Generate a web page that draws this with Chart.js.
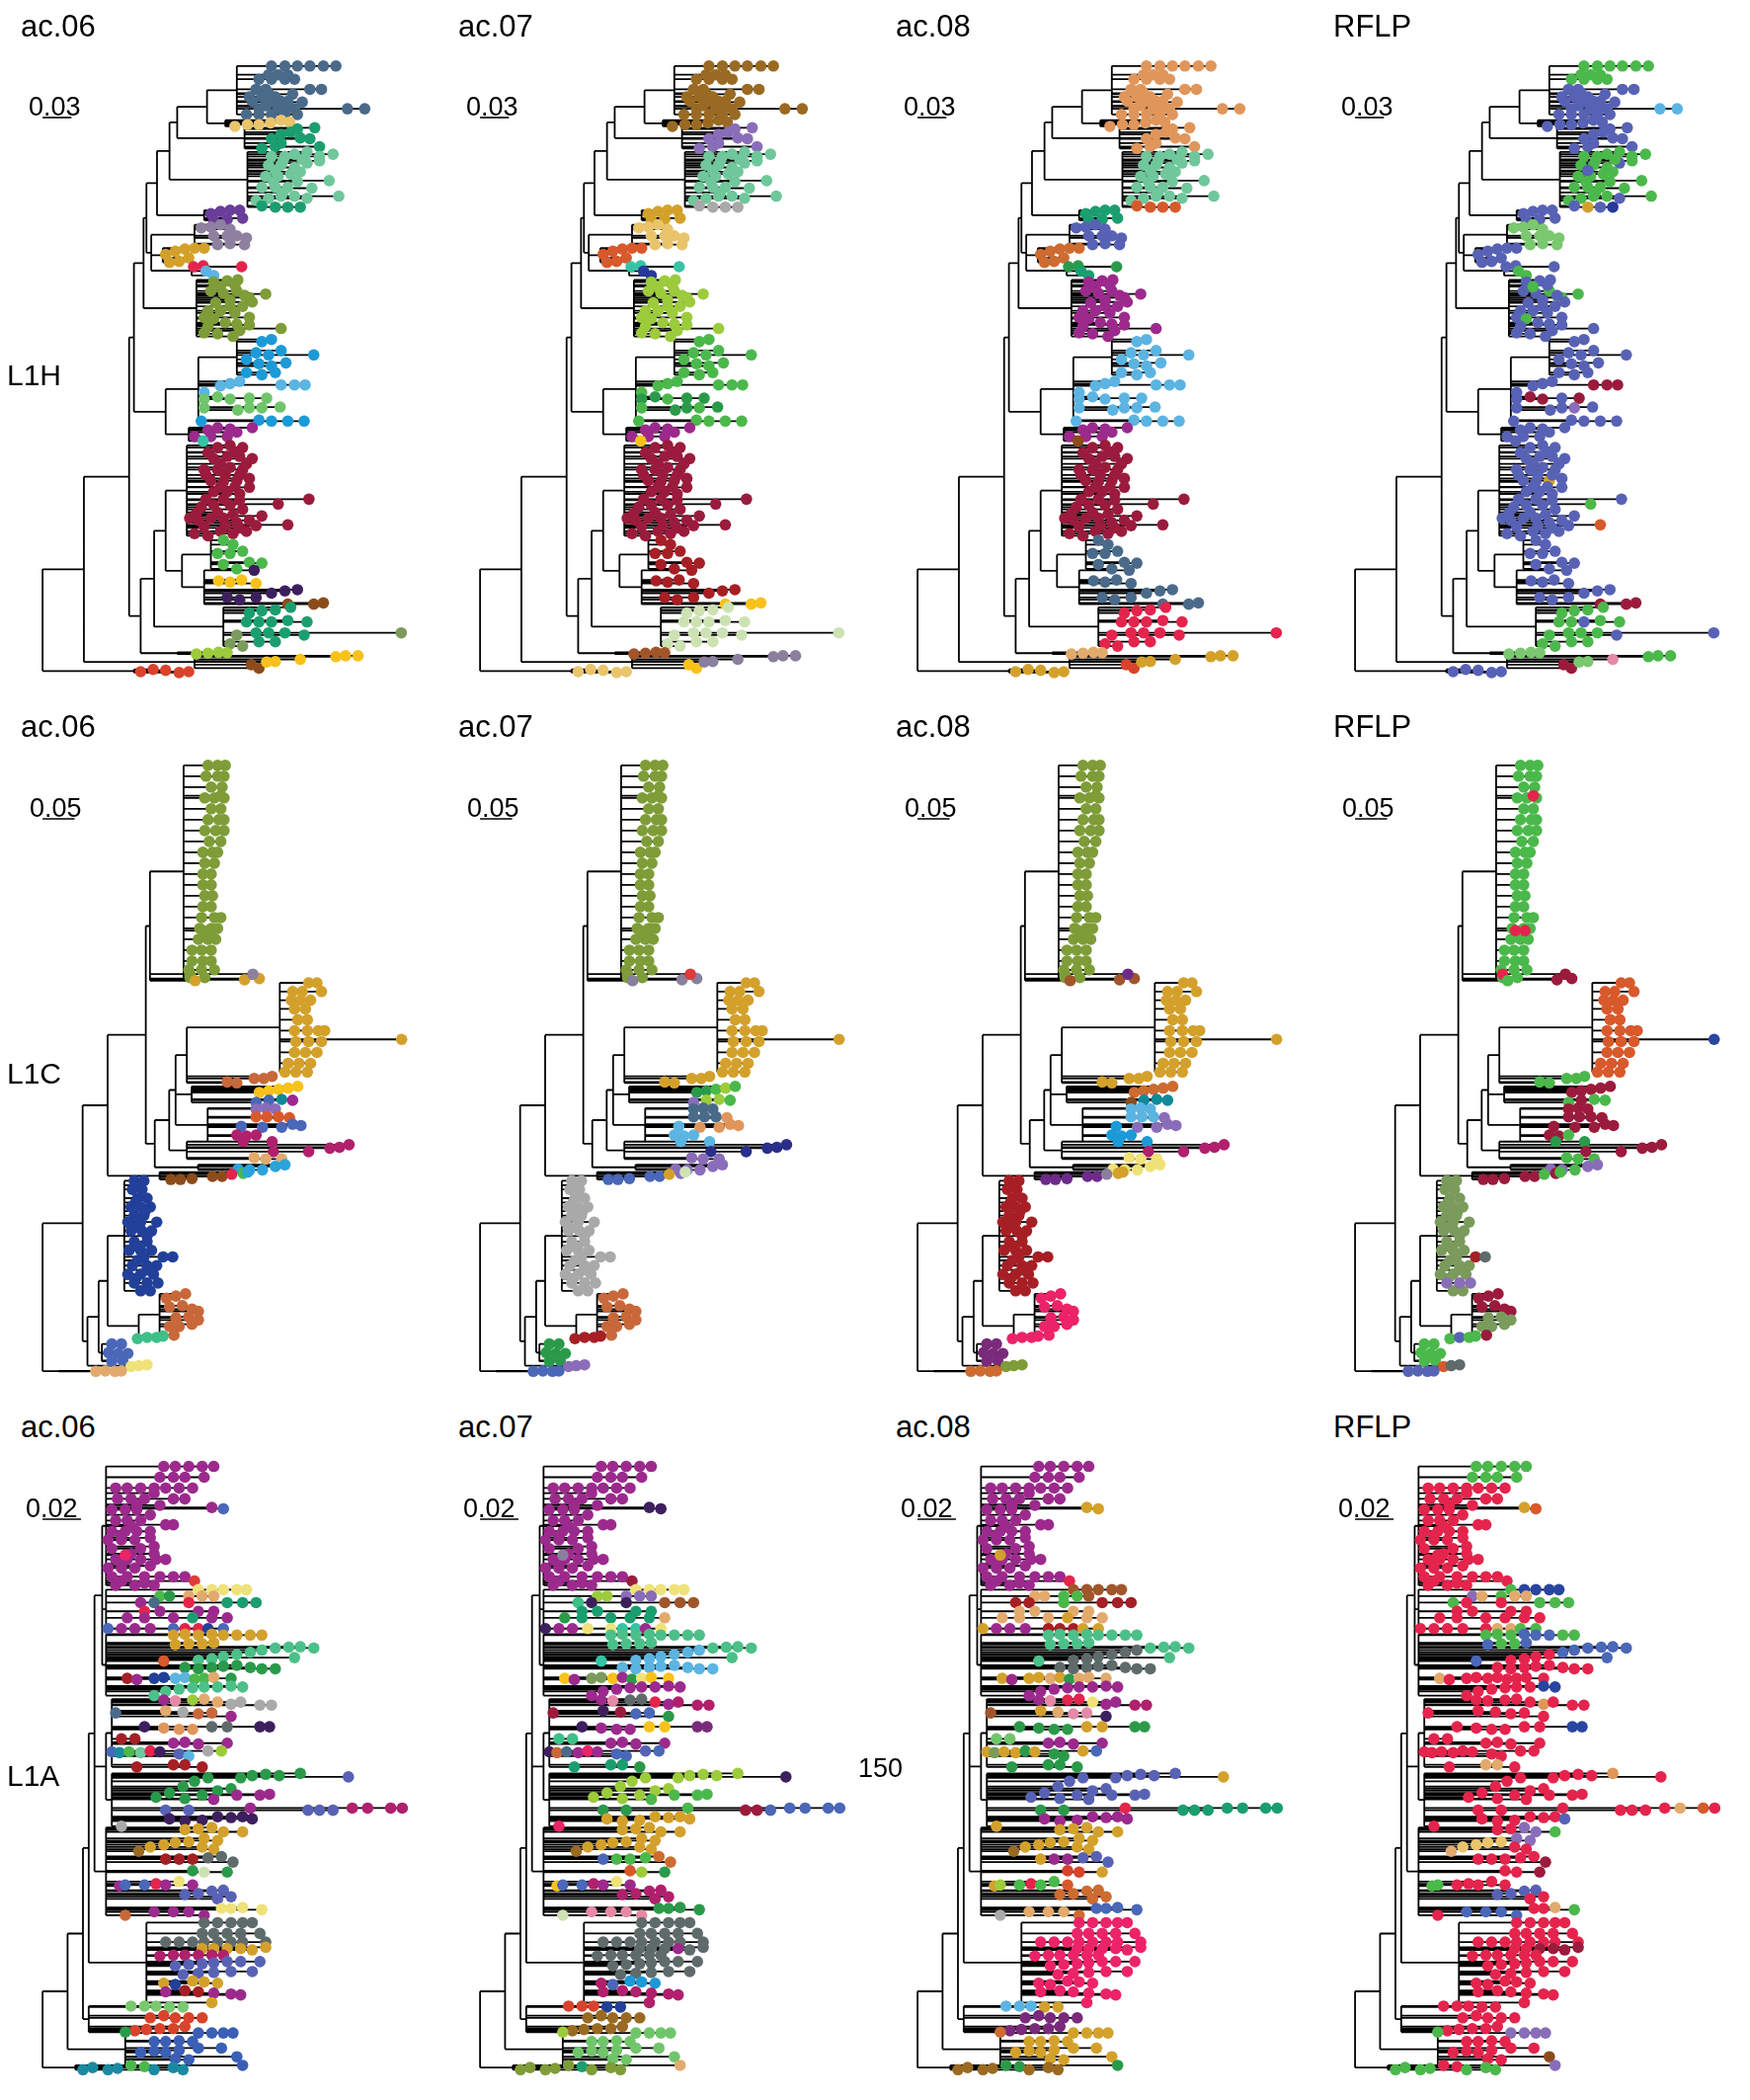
<!DOCTYPE html>
<html>
<head>
<meta charset="utf-8">
<script src="https://cdn.jsdelivr.net/npm/chart.js@4.4.1/dist/chart.umd.min.js"></script>
<style>
  html, body { margin: 0; padding: 0; background: #fff; }
  #page { position: relative; width: 1772px; height: 2126px; overflow: hidden;
          font-family: 'Liberation Sans', Arial, Helvetica, sans-serif; color: #000; }
  #page canvas { position: absolute; }
  .lbl { position: absolute; white-space: nowrap; }
</style>
</head>
<body>
<div id="page"></div>
<script>
// colour keys used by the tip colour strings
const palette = {
  A: '#4a6a8a', B: '#e9c46b', C: '#1b9e6f', D: '#6fc79b', E: '#6a3d9a', F: '#8e809f', G: '#d3a12b',
  H: '#e4244c', I: '#5bb4e1', J: '#7e9c37', K: '#1c9ad7', L: '#70c56b', M: '#9c2a8d', N: '#36c3a6',
  O: '#9b1b3c', P: '#4bb84b', Q: '#f8c21b', R: '#3d1f5e', S: '#8c4b1b', T: '#7a9b5b', U: '#9ccb3b',
  V: '#d9432b', W: '#9a6a23', X: '#8a6db9', Y: '#a9a9a9', Z: '#d8592b',
  a: '#27399b', b: '#2a9a4a', c: '#a61f25', d: '#cde2b3', e: '#8a7f9d', f: '#e0965b', g: '#5862b5',
  h: '#cd6b31', i: '#7ac86f', j: '#e48aa5', k: '#e2aa6c', l: '#a0562a', m: '#c8683a', n: '#4a67b8',
  o: '#b0206c', p: '#2aa3da', q: '#22409a', r: '#3ebf88', s: '#efe27a', t: '#2a2f8a', u: '#ec2368',
  v: '#7a2a7a', w: '#0f8a9a', x: '#5f6b6a', y: '#e03a3a', z: '#2a45a0',
  '0': '#4cc089', '1': '#1a8aa0', '2': '#3a5fb5', '3': '#6e2a8a'
};

const columns = ['ac.06', 'ac.07', 'ac.08', 'RFLP'];
const lineages = ['L1H', 'L1C', 'L1A'];
const scaleBars = [0.03, 0.05, 0.02];

// ---------- L1H ----------
// nodes: [distance from root, parent node]
const l1hNodes = [
  [0, -1], [0.043, 0], [0.09, 1], [0.095, 2], [0.105, 3], [0.108, 4], [0.119, 5], [0.132, 6],
  [0.14, 7], [0.171, 8], [0.202, 9], [0.19, 9], [0.21, 8], [0.137, 7], [0.213, 13], [0.168, 6],
  [0.113, 5], [0.158, 16], [0.125, 16], [0.155, 16], [0.16, 4], [0.128, 3], [0.135, 21], [0.162, 22],
  [0.202, 23], [0.152, 21], [0.102, 2], [0.116, 26], [0.128, 27], [0.15, 28], [0.145, 28], [0.175, 30],
  [0.168, 30], [0.188, 27], [0.13, 1], [0.158, 34], [0.095, 0], [0.14, 26]
];
// tip groups: [node, distance, tip rank, distance, tip rank, ...]
const l1hGroups = [
  [10, 0.238,1382, 0.252,1382, 0.265,1382, 0.278,1382, 0.292,1382, 0.305,1382, 0.235,1362, 0.245,1362, 0.255,1362, 0.225,1352, 0.238,1352, 0.252,1352, 0.262,1352],
  [10, 0.222,1329, 0.232,1329, 0.278,1329, 0.29,1329, 0.215,1312, 0.228,1312, 0.242,1312, 0.218,1302, 0.238,1302, 0.248,1302, 0.255,1302, 0.225,1285, 0.245,1285, 0.262,1285, 0.212,1272, 0.225,1272, 0.238,1272, 0.252,1272, 0.265,1272, 0.235,1320, 0.26,1318, 0.27,1300, 0.232,1292, 0.255,1290],
  [10, 0.317,1285, 0.335,1285],
  [11, 0.2,1245, 0.213,1249, 0.225,1249, 0.237,1253, 0.248,1259, 0.257,1255],
  [12, 0.228,1195, 0.238,1217, 0.248,1227, 0.258,1232, 0.268,1219, 0.278,1217, 0.265,1239, 0.283,1242, 0.248,1207, 0.288,1199, 0.242,1199],
  [14, 0.238,1177, 0.252,1177, 0.262,1182, 0.275,1187, 0.288,1177, 0.302,1182, 0.235,1157, 0.248,1157, 0.262,1152, 0.275,1162, 0.288,1167, 0.232,1132, 0.245,1132, 0.258,1137, 0.298,1122, 0.228,1107, 0.242,1107, 0.255,1107, 0.235,1082, 0.248,1087, 0.262,1087, 0.275,1082, 0.308,1087, 0.222,1077, 0.25,1167, 0.27,1170, 0.242,1145, 0.268,1142, 0.24,1120, 0.265,1120, 0.28,1105, 0.25,1095],
  [14, 0.228,1065, 0.242,1062, 0.255,1062, 0.268,1062],
  [15, 0.175,1047, 0.185,1052, 0.195,1055, 0.205,1055, 0.178,1032, 0.192,1034, 0.208,1037],
  [17, 0.165,1015, 0.175,1017, 0.185,1022, 0.195,1012, 0.178,997, 0.192,997, 0.202,997, 0.212,992, 0.182,977, 0.195,979, 0.21,977],
  [18, 0.128,955, 0.138,962, 0.148,967, 0.158,969, 0.168,969, 0.132,937, 0.142,939, 0.152,947],
  [19, 0.157,927, 0.167,929, 0.207,927],
  [19, 0.17,917, 0.178,907],
  [20, 0.178,892, 0.192,895, 0.203,897, 0.175,872, 0.188,867, 0.202,872, 0.215,857, 0.232,865, 0.172,827, 0.185,827, 0.195,837, 0.208,837, 0.218,847, 0.168,812, 0.178,809, 0.202,797, 0.215,795, 0.248,787, 0.168,777, 0.182,775, 0.198,769, 0.185,882, 0.2,885, 0.21,862, 0.195,852, 0.18,845, 0.2,822, 0.215,812, 0.19,800, 0.172,792, 0.205,782],
  [24, 0.228,757, 0.238,762, 0.222,732, 0.235,727, 0.248,737, 0.282,727, 0.212,717, 0.225,707, 0.238,702, 0.253,709, 0.212,687, 0.228,682, 0.242,687],
  [23, 0.185,657, 0.195,662, 0.205,667, 0.168,642],
  [23, 0.248,659, 0.262,659, 0.273,659],
  [23, 0.168,627, 0.182,632, 0.195,627, 0.215,629, 0.233,629, 0.168,607, 0.203,602, 0.215,607, 0.228,607, 0.247,609],
  [23, 0.165,577, 0.225,579, 0.238,577, 0.255,577, 0.272,577],
  [25, 0.158,542, 0.172,557, 0.182,562, 0.195,559, 0.202,552, 0.218,562, 0.175,542, 0.192,542],
  [25, 0.167,532],
  [29, 0.182,517, 0.195,522, 0.208,517, 0.178,492, 0.192,497, 0.205,497, 0.218,492, 0.168,467, 0.182,467, 0.195,472, 0.208,467, 0.215,447, 0.175,442, 0.188,439, 0.202,442, 0.215,427, 0.178,417, 0.192,417, 0.205,412, 0.277,400, 0.165,382, 0.178,387, 0.195,387, 0.208,377, 0.228,362, 0.153,357, 0.162,352, 0.175,357, 0.188,357, 0.202,347, 0.215,352, 0.158,322, 0.172,317, 0.185,327, 0.198,322, 0.212,327, 0.172,505, 0.2,507, 0.185,480, 0.212,480, 0.17,455, 0.19,455, 0.205,455, 0.185,428, 0.2,428, 0.17,400, 0.188,400, 0.205,398, 0.16,368, 0.182,370, 0.198,365, 0.168,338, 0.19,340, 0.205,335, 0.222,340],
  [29, 0.245,389],
  [29, 0.255,342],
  [31, 0.188,307, 0.198,297, 0.182,277, 0.195,277, 0.208,282, 0.188,252, 0.202,242, 0.215,257, 0.228,255],
  [32, 0.183,215, 0.195,212, 0.207,217, 0.222,209],
  [32, 0.22,239, 0.192,177, 0.205,172, 0.222,177, 0.238,187, 0.252,192, 0.265,195],
  [32, 0.255,162, 0.282,162, 0.292,165],
  [33, 0.215,142, 0.228,147, 0.242,149, 0.258,155, 0.212,122, 0.225,122, 0.238,122, 0.255,125, 0.275,122, 0.222,97, 0.235,97, 0.252,97, 0.272,92, 0.225,77, 0.242,77],
  [33, 0.373,97],
  [33, 0.202,92, 0.195,72, 0.208,67],
  [37, 0.16,49, 0.172,51, 0.183,53, 0.192,52],
  [35, 0.217,25, 0.225,17],
  [35, 0.233,31, 0.242,32, 0.268,37],
  [35, 0.305,43, 0.315,45, 0.328,45],
  [36, 0.102,9, 0.115,14, 0.128,12, 0.142,7, 0.152,9]
];
// one colour string per tip group (a single key colours the whole group)
const l1hAc06 = ['A','A','A','B','C','D','C','E','F','G','H','I','J','K','I','I','L','K','M','N','O','O','O','P','Q','R','S','C','T','T','U','S','Q','Q','V'];
const l1hAc07 = ['W','W','W','W','X','D','Y','G','B','Z','N','a','U','P','P','P','bbPbbPbbPb','P','M','Q','O','O','O','c','c','c','Q','d','d','d','l','Q','e','e','B'];
const l1hAc08 = ['f','f','f','f','f','D','Z','C','g','h','b','C','M','I','I','I','I','I','M','S','O','O','O','A','A','A','A','H','H','H','k','V','G','G','G'];
const l1hRflp = ['P','g','I','g','g','PPPPPPPPPgPPPPPPPPPPPgPPPPgPPPPP','gGga','g','i','g','g','P','gggggPPPggggggPggggggPgggggggg','g','g','O','gOOgOgggXg','g','g','g','ggggggggggggggGgggggggggggggggggggggg','P','Z','g','g','g','O','PPPPPPgPPPPPgPP','g','P','i','O','iij','P','g'];

// ---------- L1C ----------
const l1cNodes = [
  [0, -1], [0.0625, 0], [0.1015, 1], [0.161, 2], [0.1675, 3], [0.2, 4], [0.22, 5], [0.17, 3],
  [0.175, 7], [0.1975, 8], [0.2075, 9], [0.225, 10], [0.37, 11], [0.2325, 10], [0.2575, 10], [0.225, 9],
  [0.2425, 8], [0.1825, 2], [0.07, 1], [0.0875, 18], [0.1015, 19], [0.1275, 20], [0.15, 20], [0.1825, 22],
  [0.1425, 22], [0.0925, 19], [0.1275, 18], [0.025, 0]
];
const l1cGroups = [
  [6, 0.258,1400, 0.273,1400, 0.285,1400, 0.255,1375, 0.273,1375, 0.283,1375, 0.263,1350, 0.28,1350, 0.253,1325, 0.268,1325, 0.283,1325, 0.263,1300, 0.278,1300, 0.258,1275, 0.275,1275, 0.283,1275, 0.253,1250, 0.27,1250, 0.283,1250, 0.26,1225, 0.278,1225, 0.25,1200, 0.265,1200, 0.273,1200, 0.253,1175, 0.268,1175, 0.25,1150, 0.263,1150, 0.25,1125, 0.263,1125, 0.253,1100, 0.265,1100, 0.25,1075, 0.263,1075, 0.248,1050, 0.268,1050, 0.278,1050, 0.245,1025, 0.263,1025, 0.273,1025, 0.243,1000, 0.258,1000, 0.27,1000, 0.233,975, 0.248,975, 0.263,975, 0.233,950, 0.25,950, 0.263,950, 0.228,930, 0.248,930, 0.268,930, 0.23,912, 0.253,912],
  [6, 0.278,1330, 0.25,1020, 0.265,1020, 0.23,920],
  [4, 0.238,905, 0.315,907, 0.338,910],
  [4, 0.328,920],
  [12, 0.415,900, 0.428,900, 0.39,880, 0.405,880, 0.435,880, 0.388,860, 0.403,860, 0.418,860, 0.393,840, 0.41,840, 0.398,815, 0.413,815, 0.393,790, 0.413,790, 0.43,790, 0.44,790, 0.395,765, 0.415,765, 0.435,765, 0.393,740, 0.41,740, 0.428,740, 0.383,715, 0.4,715, 0.418,715, 0.378,695, 0.395,695, 0.413,695],
  [12, 0.56,770],
  [11, 0.288,672, 0.303,670, 0.33,680, 0.345,680, 0.358,685],
  [13, 0.338,648, 0.353,652, 0.368,655, 0.383,658, 0.398,662],
  [13, 0.333,625, 0.353,630, 0.373,632, 0.39,630],
  [14, 0.333,610, 0.348,612, 0.363,610, 0.333,592, 0.35,592, 0.368,592, 0.385,590],
  [14, 0.31,570, 0.343,568, 0.373,568, 0.39,575, 0.403,572],
  [14, 0.303,550, 0.318,548, 0.333,550, 0.313,535],
  [15, 0.358,535, 0.36,512, 0.415,512, 0.448,520, 0.463,522, 0.478,528],
  [15, 0.33,498, 0.348,495, 0.373,495],
  [16, 0.305,472, 0.323,470, 0.343,470, 0.363,478, 0.378,482],
  [17, 0.2,448, 0.215,448, 0.233,450, 0.265,455, 0.28,455, 0.295,460, 0.313,462, 0.32,465],
  [21, 0.143,445, 0.158,445, 0.14,425, 0.155,425, 0.148,405, 0.163,405, 0.138,385, 0.153,385, 0.168,385, 0.143,365, 0.158,365, 0.133,350, 0.153,350, 0.178,350, 0.138,330, 0.155,330, 0.17,330, 0.143,305, 0.163,305, 0.135,285, 0.153,285, 0.17,285, 0.158,270, 0.14,250, 0.163,250, 0.178,250, 0.133,230, 0.153,230, 0.173,230, 0.153,192, 0.168,192, 0.15,435, 0.145,395, 0.16,375, 0.148,340, 0.163,318, 0.148,295, 0.148,262, 0.163,240, 0.145,220],
  [21, 0.188,270, 0.203,270],
  [21, 0.143,210, 0.163,210, 0.18,210],
  [23, 0.193,175, 0.208,180, 0.223,185, 0.198,155, 0.218,158, 0.233,150, 0.243,145],
  [23, 0.208,130, 0.228,132, 0.198,110, 0.213,110, 0.233,115, 0.243,125, 0.205,90],
  [24, 0.148,82, 0.163,85, 0.178,85, 0.188,88],
  [25, 0.108,70, 0.123,70, 0.103,50, 0.118,48, 0.133,48, 0.108,30, 0.125,32],
  [26, 0.138,18, 0.15,20, 0.163,22],
  [27, 0.083,7, 0.098,8, 0.113,7, 0.123,8]
];
const l1cAc06 = ['J','J','G','F','G','G','m','Q','nnwM','XXXZZZZ','n','o','o','k','p','SSSSSHPp','q','q','q','m','m','r','n','s','k'];
const l1cAc07 = ['J','J','e','y','G','G','G','bbPUP','XUUP','AAAAAAf','Iffff','I','Itttttt','X','X','nnnnnGXd','Y','Y','Y','m','m','c','b','X','n'];
const l1cAc08 = ['J','J','l','3','G','G','G','h','Swww','IIIIIIX','KXXXX','K','Kooooo','s','s','33333eGG','c','c','c','u','u','u','v','J','h'];
const l1cRflp = ['P','H','POO','O','Z','z','P','O','POPP','O','O','OOPb','bOOOOO','P','XXPXX','OOOOOPOP','T','cx','X','O','TTTTTTO','PgPP','P','Zxx','g'];

// ---------- L1A ----------
const l1aNodes = [
  [0, -1], [0.013, 0], [0.021, 1], [0.024, 2], [0.027, 3], [0.031, 4], [0.033, 5], [0.033, 5],
  [0.033, 4], [0.036, 8], [0.036, 8], [0.033, 4], [0.054, 3], [0.024, 2], [0.033, 5], [0.043, 1],
  [0.017, 0]
];
const l1aGroups = [
  [6, 0.063,1410, 0.069,1410, 0.076,1410, 0.083,1410, 0.089,1410, 0.061,1385, 0.068,1385, 0.074,1385, 0.084,1385],
  [6, 0.038,1360, 0.044,1360, 0.051,1360, 0.058,1360, 0.064,1360, 0.071,1360, 0.078,1360, 0.039,1335, 0.046,1335, 0.053,1335, 0.068,1335, 0.074,1335, 0.036,1310, 0.043,1310, 0.049,1310, 0.038,1285, 0.044,1285, 0.051,1285, 0.064,1275, 0.068,1275, 0.036,1260, 0.043,1260, 0.049,1260, 0.056,1260, 0.034,1240, 0.041,1240, 0.048,1240, 0.058,1225, 0.036,1220, 0.051,1220, 0.038,1195, 0.044,1195, 0.051,1195, 0.059,1195, 0.064,1195, 0.034,1175, 0.041,1175, 0.048,1175, 0.036,1155, 0.044,1155, 0.053,1155, 0.061,1155, 0.068,1155, 0.074,1155, 0.038,1135, 0.048,1135, 0.058,1135, 0.058,1348, 0.049,1322, 0.061,1320, 0.056,1298, 0.046,1272, 0.041,1250, 0.056,1245, 0.046,1208, 0.058,1208, 0.041,1185, 0.056,1180, 0.041,1145, 0.053,1140],
  [6, 0.043,1205, 0.088,1315, 0.094,1312, 0.079,1145],
  [7, 0.081,1125, 0.088,1125, 0.094,1125, 0.101,1125, 0.106,1125, 0.061,1110, 0.066,1110, 0.076,1110, 0.083,1110, 0.089,1110, 0.051,1095, 0.058,1095, 0.076,1095, 0.096,1095, 0.104,1095, 0.111,1095, 0.053,1075, 0.061,1075, 0.081,1075, 0.089,1075, 0.044,1060, 0.053,1060, 0.068,1060, 0.078,1060, 0.088,1060, 0.096,1060, 0.034,1035, 0.041,1035, 0.048,1035, 0.056,1035, 0.068,1035, 0.074,1035, 0.081,1035, 0.086,1035, 0.094,1035],
  [14, 0.068,1020, 0.074,1022, 0.081,1020, 0.088,1022, 0.094,1020, 0.101,1020, 0.108,1020, 0.114,1020, 0.069,998, 0.076,1000, 0.083,1000, 0.089,1002],
  [14, 0.081,962, 0.088,965, 0.094,970, 0.101,975, 0.108,980, 0.114,985, 0.121,990, 0.128,992, 0.134,993, 0.141,990, 0.131,968, 0.063,960],
  [14, 0.074,945, 0.081,942, 0.088,945, 0.094,948, 0.101,950, 0.108,945, 0.114,942, 0.121,942],
  [14, 0.044,920, 0.049,917, 0.058,920, 0.063,922, 0.069,920, 0.074,922, 0.079,918, 0.084,920, 0.089,922, 0.098,920],
  [14, 0.058,880, 0.064,890, 0.071,895, 0.078,898, 0.084,900, 0.091,900, 0.098,902, 0.104,900],
  [9, 0.063,870, 0.069,868, 0.078,870, 0.084,872, 0.091,865, 0.098,860, 0.103,865, 0.113,858, 0.119,858, 0.038,840, 0.064,845, 0.073,842, 0.081,838, 0.088,840, 0.098,832],
  [9, 0.053,808, 0.063,805, 0.071,802, 0.078,802, 0.088,808, 0.096,808, 0.113,808, 0.118,808],
  [9, 0.041,780, 0.048,780, 0.068,770, 0.074,772, 0.081,768, 0.096,770],
  [9, 0.036,750, 0.04,748, 0.045,750, 0.051,748, 0.056,752, 0.061,750, 0.071,745, 0.076,740, 0.086,752, 0.093,752, 0.049,715, 0.068,720, 0.074,720, 0.083,715],
  [10, 0.059,645, 0.066,655, 0.073,670, 0.079,682, 0.086,690, 0.074,642, 0.083,650, 0.091,660, 0.098,665, 0.103,690, 0.109,695, 0.116,698, 0.123,695, 0.134,700, 0.159,692, 0.089,640, 0.101,650, 0.113,650, 0.118,652],
  [10, 0.064,615, 0.076,615, 0.108,620, 0.138,615, 0.144,615, 0.151,615, 0.161,620, 0.169,620, 0.181,620, 0.187,620],
  [10, 0.066,595, 0.074,590, 0.083,592, 0.091,600, 0.098,598, 0.104,600, 0.109,595, 0.041,578],
  [11, 0.074,570, 0.081,572, 0.088,575, 0.094,565, 0.104,565, 0.084,550, 0.091,545, 0.056,530, 0.063,535, 0.069,540, 0.076,542, 0.083,530, 0.089,525],
  [11, 0.05,520, 0.064,502, 0.071,502, 0.078,502, 0.086,505, 0.093,508, 0.099,495, 0.078,475, 0.084,472, 0.096,472],
  [11, 0.04,440, 0.043,442, 0.053,442, 0.059,445, 0.064,442, 0.071,450, 0.078,442, 0.074,420, 0.081,422, 0.088,428, 0.094,430, 0.098,415, 0.091,410],
  [11, 0.043,372, 0.058,380, 0.068,380, 0.076,380, 0.084,372, 0.093,388, 0.098,388, 0.104,390, 0.114,385],
  [12, 0.084,355, 0.091,355, 0.098,355, 0.104,355, 0.109,355, 0.083,330, 0.089,330, 0.096,330, 0.103,330, 0.113,330, 0.064,310, 0.071,310, 0.078,310, 0.084,310, 0.091,310, 0.098,310, 0.104,310, 0.116,310],
  [12, 0.083,295, 0.089,295, 0.096,295, 0.103,295, 0.109,292, 0.116,298],
  [12, 0.061,278, 0.068,280, 0.074,280, 0.081,280, 0.088,280, 0.094,280],
  [12, 0.069,255, 0.076,258, 0.083,260, 0.089,262, 0.096,265, 0.103,265, 0.113,265, 0.073,235, 0.081,238, 0.089,240, 0.098,242, 0.109,242],
  [12, 0.063,215, 0.069,212, 0.078,220, 0.084,218, 0.091,215, 0.064,195, 0.074,198, 0.081,195, 0.089,192, 0.098,190, 0.103,188, 0.088,170],
  [13, 0.046,162, 0.053,162, 0.059,162, 0.066,160, 0.073,160, 0.056,135, 0.063,140, 0.069,135, 0.076,135, 0.083,135, 0.048,105, 0.054,108, 0.061,110, 0.068,110, 0.074,115, 0.043,102],
  [15, 0.081,100, 0.088,100, 0.094,100, 0.099,100, 0.058,80, 0.064,80, 0.071,82, 0.078,80, 0.051,55, 0.058,58, 0.064,55, 0.071,60, 0.081,65, 0.093,65, 0.101,45, 0.104,25, 0.069,40, 0.076,38],
  [16, 0.021,15, 0.026,20, 0.034,15, 0.039,18, 0.046,25, 0.053,22, 0.058,15, 0.068,20, 0.073,15]
];
const l1aAc06 = ['M','M','uMny','sssssPbkkkMAHCCCHMMMMMMCMMnMMMnHHqn','G','00000000000Z','b','cMqqIIPPkb','0','MjUkkYYYYAkYmmM','RfffxxRR','ccMMMM','n1PDHRgIYUcccc','bbbbbbbbbbbbbbgMMMM','ggMgggoooo','RRRRRRRY','G','Wcccxxxbdb','MnnHMsMgggggg','mMMMMssss','x','G','o','g','GqGGGMccMMMG','iiiiiVVVVVVVVVVb','2','1111PP111'];
const l1aAc07 = ['M','M','eRRO','sssssUUXXXrRRlllCCCCbCCCCkRMMssNNMs','0','IIIIII00000N','I','QMTTQMbsQQ','M','MjxxHMoooOROnnb','RMMMQQvv','rrMMMM','RmAMuMnngnCCCb','UUUUUUUUUUUUUURPPPP','bbPOOnnnnn','GGGGGGGu','G','WnPPPhhZUb','QnnoMsMoooooo','djjjjbbbb','x','xxxMxx','x','x','onKKKooooooo','VVVqqWWWWWWWWWWU','LLLLLLLLLLLLLLLkLL','JJJJJCJJJ'];
const l1aAc08 = ['M','M','GGGH','lllllkkPPlccPccckkkkkkkGkkGMMMcccGG','0','xxxxxx000000','x','GMGGkGbkkk','M','MjHHsMMoolGkjjR','bbbbGGbb','LLMMMM','GTGGbGbbGnbbbb','ggggggggggggggGgggg','bbHCCCCCCC','MMMMMMMG','G','WGMMgggVVG','GUPHPPZhhhhhh','Ykkkhnnnn','u','u','u','u','u','IIIGGvvvvvvvvvvh','GGGGGGGGGGGGGGGbGG','WWWWbbWWW'];
const l1aRflp = ['P','H','HGZH','PzzzzXkPkkPHHPPPHHHHHHHHHHHHHHHkkPP','PPPnnnPPnPPn','HHHHnnnnnnnn','H','kHHHHHHHHH','HHHHHHzz','HHHHHfHHHHHHHHH','HHHHHHzz','H','HHHHHHHHHHHkkH','HHHHHHHHHHHHHfHHHHH','HHHHHHHkZH','HHHHHHgH','HHXXPXXBBBBHH','kHHHHHOHHO','PPHHHHHggggHH','HnnnnHHkP','H','HHOOOO','H','H','H','HHHHHHHHHHHHHHHP','XXXXHHHHHHHHHHSXHH','PPPPHHPPP'];

// page layout (pixels)
const colLeft = [0, 443, 886, 1329];
const panelW = 443;
const rootPx = 38.3;
const tipRadius = 5.8;
const rows = [
  { nodes: l1hNodes, groups: l1hGroups, colours: [l1hAc06, l1hAc07, l1hAc08, l1hRflp],
    top: 42, bottom: 708, zeroPx: 689.5, ranksPerPx: 2.2, pxPerUnit: 1000,
    titleBase: 37, barY: 119, barTextLeft: 29, barTextBase: 118, labelBase: 390 },
  { nodes: l1cNodes, groups: l1cGroups, colours: [l1cAc06, l1cAc07, l1cAc08, l1cRflp],
    top: 752, bottom: 1418, zeroPx: 1396.8, ranksPerPx: 2.231, pxPerUnit: 666.7,
    titleBase: 746, barY: 829, barTextLeft: 30, barTextBase: 828, labelBase: 1097 },
  { nodes: l1aNodes, groups: l1aGroups, colours: [l1aAc06, l1aAc07, l1aAc08, l1aRflp],
    top: 1462, bottom: 2124, zeroPx: 2107.4, ranksPerPx: 2.244, pxPerUnit: 2000,
    titleBase: 1455, barY: 1538, barTextLeft: 26, barTextBase: 1537, labelBase: 1808 }
];

const page = document.getElementById('page');

// text placed by its baseline (Liberation Sans metrics)
function addText(str, left, baseline, size) {
  const d = document.createElement('div');
  d.className = 'lbl';
  d.textContent = str;
  d.style.fontSize = size + 'px';
  d.style.lineHeight = size + 'px';
  d.style.left = left + 'px';
  d.style.top = (baseline - 0.8465 * size) + 'px';
  page.appendChild(d);
}

// branch segments of a rectangular tree, gaps marked with null
function treeSegments(nodes, groups) {
  const kids = nodes.map(() => []);
  const tipRanks = nodes.map(() => []);
  nodes.forEach((n, i) => { if (n[1] >= 0) kids[n[1]].push(i); });
  groups.forEach(g => { for (let k = 1; k < g.length; k += 2) tipRanks[g[0]].push(g[k + 1]); });

  const span = [];
  function place(i) {
    const ys = tipRanks[i].slice();
    kids[i].forEach(c => ys.push(place(c)));
    const lo = Math.min(...ys), hi = Math.max(...ys);
    span[i] = { lo, hi, mid: (lo + hi) / 2 };
    return span[i].mid;
  }
  place(0);

  const segs = [];
  const seg = (x1, y1, x2, y2) => segs.push({ x: x1, y: y1 }, { x: x2, y: y2 }, { x: x2, y: null });
  nodes.forEach((n, i) => {
    seg(n[0], span[i].lo, n[0], span[i].hi);
    if (n[1] >= 0) seg(nodes[n[1]][0], span[i].mid, n[0], span[i].mid);
  });
  groups.forEach(g => {
    const nx = nodes[g[0]][0];
    for (let k = 1; k < g.length; k += 2) seg(nx, g[k + 1], g[k], g[k + 1]);
  });
  return segs;
}

function tipData(groups, colours) {
  const pts = [], cols = [];
  groups.forEach((g, gi) => {
    const spec = colours[gi];
    for (let k = 1, j = 0; k < g.length; k += 2, j++) {
      pts.push({ x: g[k], y: g[k + 1] });
      cols.push(palette[spec[Math.min(j, spec.length - 1)]]);
    }
  });
  return { pts, cols };
}

// scale bar drawn through the x scale
const scaleBarPlugin = {
  id: 'scaleBar',
  afterDatasetsDraw(chart, args, opts) {
    const ctx = chart.ctx, xs = chart.scales.x;
    ctx.save();
    ctx.strokeStyle = '#000';
    ctx.lineWidth = 1.6;
    ctx.beginPath();
    ctx.moveTo(xs.getPixelForValue(0), opts.y);
    ctx.lineTo(xs.getPixelForValue(opts.length), opts.y);
    ctx.stroke();
    ctx.restore();
  }
};

rows.forEach((row, r) => {
  const segs = treeSegments(row.nodes, row.groups);
  const h = row.bottom - row.top;

  columns.forEach((name, c) => {
    const canvas = document.createElement('canvas');
    canvas.width = panelW;
    canvas.height = h;
    canvas.style.left = colLeft[c] + 'px';
    canvas.style.top = row.top + 'px';
    canvas.style.width = panelW + 'px';
    canvas.style.height = h + 'px';
    page.appendChild(canvas);

    const tips = tipData(row.groups, row.colours[c]);

    new Chart(canvas, {
      type: 'scatter',
      data: {
        datasets: [
          {
            type: 'scatter', data: tips.pts, order: 0, clip: false,
            pointRadius: tipRadius, pointHoverRadius: tipRadius,
            pointBackgroundColor: tips.cols, pointBorderColor: tips.cols, pointBorderWidth: 0
          },
          {
            type: 'line', data: segs, order: 1, clip: false,
            borderColor: '#000', borderWidth: 1.8, pointRadius: 0, pointHoverRadius: 0,
            spanGaps: false, tension: 0, fill: false
          }
        ]
      },
      options: {
        responsive: false,
        animation: false,
        events: [],
        layout: { padding: 0 },
        plugins: {
          legend: { display: false },
          tooltip: { enabled: false },
          scaleBar: { length: scaleBars[r], y: row.barY - row.top }
        },
        scales: {
          x: { type: 'linear', display: false,
               min: -rootPx / row.pxPerUnit, max: (panelW - rootPx) / row.pxPerUnit },
          y: { type: 'linear', display: false,
               min: (row.zeroPx - row.bottom) * row.ranksPerPx, max: (row.zeroPx - row.top) * row.ranksPerPx }
        }
      },
      plugins: [scaleBarPlugin]
    });

    addText(name, colLeft[c] + 21, row.titleBase, 31);
    addText(String(scaleBars[r]), colLeft[c] + row.barTextLeft, row.barTextBase, 27);
  });

  addText(lineages[r], 7, row.labelBase, 30);
});

// stray label between the L1A panels
addText('150', 869, 1800, 27);
</script>
</body>
</html>
